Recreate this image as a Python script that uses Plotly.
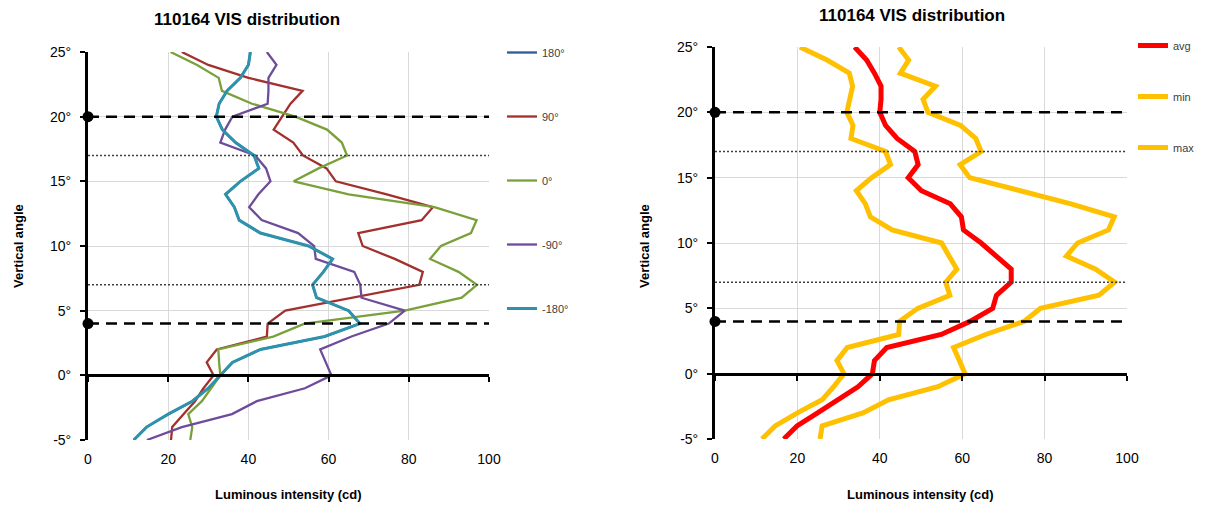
import plotly.graph_objects as go

W, H = 1205, 515

# ---------------- data ----------------
angles = list(range(-5, 26))  # vertical angle (deg)

# left chart: luminous intensity per horizontal angle
s180 = [11.4, 14.6, 20.0, 26.0, 30.0, 33.0, 36.0, 43.0, 59.0, 67.8, 65.0, 57.0, 56.0, 58.7, 61.0, 55.0,
        43.0, 37.7, 36.5, 34.3, 38.0, 42.6, 41.4, 36.8, 33.5, 32.0, 32.7, 34.7, 38.0, 40.0, 40.5]
s90 = [20.7, 21.0, 23.8, 26.7, 28.8, 31.3, 29.6, 32.1, 44.6, 44.8, 49.2, 66.0, 82.6, 83.5, 76.5, 68.5,
       67.4, 83.2, 86.0, 74.5, 61.8, 59.5, 53.6, 51.2, 46.3, 48.4, 50.5, 53.5, 40.0, 30.0, 23.4]
s0 = [25.5, 26.0, 25.0, 28.4, 30.7, 33.0, 32.7, 32.5, 46.2, 54.0, 79.0, 93.2, 97.0, 92.4, 85.3, 88.0,
      95.5, 96.9, 86.4, 65.0, 51.3, 57.5, 64.6, 63.3, 59.6, 51.7, 40.9, 33.4, 32.6, 27.2, 20.6]
sm90 = [14.7, 23.4, 35.9, 42.1, 54.1, 60.7, 59.3, 57.9, 65.7, 75.0, 79.0, 68.2, 67.9, 66.4, 56.8, 56.4,
        52.4, 43.3, 40.2, 42.5, 45.5, 44.4, 41.7, 33.0, 34.2, 36.0, 44.8, 45.0, 45.0, 47.0, 44.6]
sm180 = [11.4, 14.6, 20.0, 26.0, 30.0, 33.0, 36.0, 43.0, 59.0, 67.8, 65.0, 57.0, 56.0, 58.7, 61.0, 55.0,
         43.0, 37.7, 36.5, 34.3, 38.0, 42.6, 41.4, 36.8, 33.5, 32.0, 32.7, 34.7, 38.0, 40.0, 40.5]

# right chart: summary series
s_avg = [16.7, 19.9, 24.9, 29.8, 34.7, 38.2, 38.7, 41.7, 54.9, 61.9, 67.4, 68.3, 71.9, 71.9, 68.1, 64.6,
         60.3, 59.8, 57.1, 50.1, 46.9, 49.3, 48.5, 44.2, 41.4, 40.0, 40.3, 40.3, 38.7, 36.8, 33.9]
s_min = [11.4, 14.6, 20.0, 26.0, 28.8, 31.3, 29.6, 32.1, 44.6, 44.8, 49.2, 57.0, 56.0, 58.7, 56.8, 55.0,
         43.0, 37.7, 36.5, 34.3, 38.0, 42.6, 41.4, 33.0, 33.5, 32.0, 32.7, 33.4, 32.6, 27.2, 20.6]
s_max = [25.5, 26.0, 35.9, 42.1, 54.1, 60.7, 59.3, 57.9, 65.7, 75.0, 79.0, 93.2, 97.0, 92.4, 85.3, 88.0,
         95.5, 96.9, 86.4, 74.5, 61.8, 59.5, 64.6, 63.3, 59.6, 51.7, 50.5, 53.5, 45.0, 47.0, 44.6]

left_names = ["180°", "90°", "0°", "-90°", "-180°"]
left_series = [s180, s90, s0, sm90, sm180]
left_colors = ["#2B5C94", "#A3302C", "#7AA03A", "#6E4C9A", "#2E92AD"]
left_widths = [2.3, 2.3, 2.3, 2.3, 3]

right_names = ["avg", "min", "max"]
right_series = [s_avg, s_min, s_max]
right_colors = ["#FF0000", "#FFC000", "#FFC000"]

x_ticks = [0, 20, 40, 60, 80, 100]
y_ticks = [-5, 0, 5, 10, 15, 20, 25]
y_ticktext = ["-5°", "0°", "5°", "10°", "15°", "20°", "25°"]
dash_levels = [20, 4]
dot_levels = [17, 7]

title_text = "110164 VIS distribution"
xtitle = "Luminous intensity (cd)"
ytitle = "Vertical angle"

FONT = "Liberation Sans, Arial, sans-serif"

# ---------------- layout geometry ----------------
L_x = [88 / W, 489 / W]
L_y = [1 - 440 / H, 1 - 52 / H]
R_x = [715 / W, 1127 / W]
R_y = [1 - 439 / H, 1 - 47 / H]


def zero_pos(dom):
    return dom[0] + (0 - (-5)) / 30 * (dom[1] - dom[0])


fig = go.Figure()

# left chart series
for name, ys, col, w in zip(left_names, left_series, left_colors, left_widths):
    fig.add_trace(go.Scatter(x=ys, y=angles, mode="lines", name=name,
                             line=dict(color=col, width=w), xaxis="x", yaxis="y",
                             legend="legend", legendgroup="L" + name))

# right chart series
for name, ys, col in zip(right_names, right_series, right_colors):
    fig.add_trace(go.Scatter(x=ys, y=angles, mode="lines", name=name,
                             line=dict(color=col, width=5), xaxis="x2", yaxis="y2",
                             legend="legend2", legendgroup="R" + name))

# reference lines
for xa, ya in [("x", "y"), ("x2", "y2")]:
    for lv in dash_levels:
        fig.add_trace(go.Scatter(x=[0, 100], y=[lv, lv], mode="lines",
                                 line=dict(color="black", width=2.5, dash="11px,7px"),
                                 showlegend=False, hoverinfo="skip", xaxis=xa, yaxis=ya))
    for lv in dot_levels:
        fig.add_trace(go.Scatter(x=[0, 100], y=[lv, lv], mode="lines",
                                 line=dict(color="#404040", width=1.5, dash="2px,2px"),
                                 showlegend=False, hoverinfo="skip", xaxis=xa, yaxis=ya))
    fig.add_trace(go.Scatter(x=[0] * len(dash_levels), y=dash_levels, mode="markers",
                             marker=dict(size=11, color="black", line=dict(width=0)),
                             cliponaxis=False, showlegend=False, hoverinfo="skip",
                             xaxis=xa, yaxis=ya))

# invisible traces to host the zero-crossing x axes
fig.add_trace(go.Scatter(x=[0], y=[0], mode="markers", marker=dict(opacity=0), showlegend=False,
                         hoverinfo="skip", xaxis="x3", yaxis="y"))
fig.add_trace(go.Scatter(x=[0], y=[0], mode="markers", marker=dict(opacity=0), showlegend=False,
                         hoverinfo="skip", xaxis="x4", yaxis="y2"))

grid = "#D9D9D9"
tickfont = dict(family=FONT, size=14, color="#000000")


def xax(dom, anchor):
    return dict(domain=dom, anchor=anchor, range=[0, 100], tickvals=x_ticks, showgrid=True,
                gridcolor=grid, gridwidth=1, zeroline=False, showline=False, ticks="",
                ticklabelstandoff=9,
                tickfont=tickfont, automargin=False, fixedrange=True)


def yax(dom, anchor):
    return dict(domain=dom, anchor=anchor, range=[-5, 25], tickvals=y_ticks, ticktext=y_ticktext,
                showgrid=True, gridcolor=grid, gridwidth=1, zeroline=False,
                showline=True, linecolor="black", linewidth=3,
                ticks="outside", ticklen=5, tickwidth=2, tickcolor="black",
                ticklabelstandoff=6,
                tickfont=tickfont, automargin=False, fixedrange=True)


def zax(over, yd):
    return dict(overlaying=over, anchor="free", position=zero_pos(yd), range=[0, 100],
                tickvals=x_ticks, showticklabels=False, showgrid=False, zeroline=False,
                showline=True, linecolor="black", linewidth=3, ticks="outside", ticklen=5,
                tickwidth=2, tickcolor="black", automargin=False, fixedrange=True)


legend_common = dict(font=dict(family=FONT, size=11, color="#404040"), bgcolor="rgba(0,0,0,0)",
                     xanchor="left", yanchor="top", itemwidth=30, traceorder="grouped")

anns = []
for cx, ty in [(247, 20), (912, 16)]:
    anns.append(dict(text=title_text, x=cx / W, y=1 - ty / H, xref="paper", yref="paper",
                     xanchor="center", yanchor="middle", showarrow=False,
                     font=dict(family=FONT, size=17, color="#000000", weight="bold")))
for cx in [288, 921]:
    anns.append(dict(text=xtitle, x=cx / W, y=1 - 494 / H, xref="paper", yref="paper",
                     xanchor="center", yanchor="middle", showarrow=False,
                     font=dict(family=FONT, size=13, color="#000000", weight="bold")))
for cx in [18, 644]:
    anns.append(dict(text=ytitle, x=cx / W, y=1 - 246 / H, xref="paper", yref="paper",
                     xanchor="center", yanchor="middle", showarrow=False, textangle=-90,
                     font=dict(family=FONT, size=13, color="#000000", weight="bold")))

fig.update_layout(
    width=W, height=H, margin=dict(l=0, r=0, t=0, b=0),
    paper_bgcolor="white", plot_bgcolor="white",
    xaxis=xax(L_x, "y"), yaxis=yax(L_y, "x"),
    xaxis2=xax(R_x, "y2"), yaxis2=yax(R_y, "x2"),
    xaxis3=zax("x", L_y), xaxis4=zax("x2", R_y),
    legend=dict(x=502 / W, y=1 - 38 / H, tracegroupgap=45, **legend_common),
    legend2=dict(x=1133 / W, y=1 - 31 / H, tracegroupgap=32, **legend_common),
    annotations=anns, showlegend=True,
)

fig.write_html("out.html")
